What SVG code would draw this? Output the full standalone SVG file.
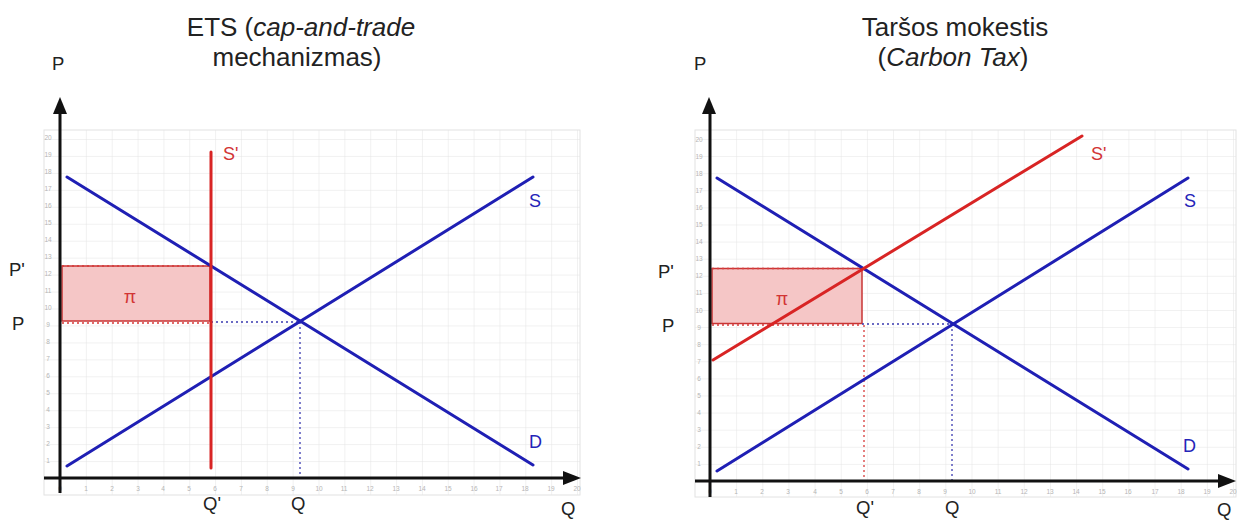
<svg xmlns="http://www.w3.org/2000/svg" width="1242" height="521" viewBox="0 0 1242 521">
<style>
text{font-family:"Liberation Sans",Arial,sans-serif;}
.title{font-size:26px;fill:#222;text-anchor:middle;}
.lbl{font-size:18.5px;fill:#222;}
.tick{font-size:6.5px;fill:#b5b5b5;text-anchor:middle;}
.blue{stroke:#1f1fb4;stroke-width:3;fill:none;stroke-linecap:round;}
.red{stroke:#d82424;stroke-width:3;fill:none;stroke-linecap:round;}
.axis{stroke:#111;stroke-width:3;fill:none;}
.dotb{stroke:#3a3ab0;stroke-width:1.3;stroke-dasharray:2 3;fill:none;}
.dotr{stroke:#d83a3a;stroke-width:1.3;stroke-dasharray:2 3;fill:none;}
.rect{fill:#f5c6c6;stroke:#c83434;stroke-width:1.5;}
.bl{fill:#2424b8;}
.rl{fill:#d23434;}
</style>
<defs>
<pattern id="gL" patternUnits="userSpaceOnUse" x="60" y="478" width="25.85" height="16.95">
<path d="M0 0H25.85M0 0V16.95" stroke="#e4e4e4" stroke-width="1" fill="none"/>
</pattern>
<pattern id="gR" patternUnits="userSpaceOnUse" x="710" y="481" width="26.15" height="17.1">
<path d="M0 0H26.15M0 0V17.1" stroke="#e4e4e4" stroke-width="1" fill="none"/>
</pattern>
</defs>
<rect width="1242" height="521" fill="#fff"/>

<!-- LEFT CHART -->
<g id="left-title">
<text class="title" x="301" y="36">ETS (<tspan font-style="italic">cap-and-trade</tspan></text>
<text class="title" x="297" y="66">mechanizmas)</text>
</g>
<g id="left-grid">
<rect x="44" y="130" width="536" height="365" fill="url(#gL)" stroke="#e2e2e2"/>
<g class="tick">
<text x="60" y="491">0</text><text x="86" y="491">1</text><text x="112" y="491">2</text><text x="138" y="491">3</text><text x="163" y="491">4</text><text x="189" y="491">5</text><text x="215" y="491">6</text><text x="241" y="491">7</text><text x="267" y="491">8</text><text x="293" y="491">9</text><text x="319" y="491">10</text><text x="344" y="491">11</text><text x="370" y="491">12</text><text x="396" y="491">13</text><text x="422" y="491">14</text><text x="448" y="491">15</text><text x="474" y="491">16</text><text x="499" y="491">17</text><text x="525" y="491">18</text><text x="551" y="491">19</text><text x="577" y="491">20</text>
<text x="48" y="463">1</text><text x="48" y="446">2</text><text x="48" y="429">3</text><text x="48" y="412">4</text><text x="48" y="395">5</text><text x="48" y="378">6</text><text x="48" y="361">7</text><text x="48" y="344">8</text><text x="48" y="327">9</text><text x="48" y="310">10</text><text x="48" y="293">11</text><text x="48" y="276">12</text><text x="48" y="259">13</text><text x="48" y="242">14</text><text x="48" y="225">15</text><text x="48" y="208">16</text><text x="48" y="191">17</text><text x="48" y="174">18</text><text x="48" y="157">19</text><text x="48" y="140">20</text>
</g>
</g>
<g id="left-profit">
<rect class="rect" x="62" y="266" width="148" height="55"/>
<text class="rl" x="130" y="303" font-size="18" text-anchor="middle">π</text>
</g>
<g id="left-connectors">
<path class="dotr" d="M62 266H211M62 323H211"/>
<path class="dotb" d="M211 322H300M300 322V477"/>
<path class="blue" d="M67 177L533 465"/>
<path class="blue" d="M67 466L533 177"/>
<path class="red" d="M211 152V468"/>
</g>
<g id="left-axes">
<path class="axis" d="M60 113V493M44 478H566"/>
<polygon points="60,97 53,114 67,114" fill="#111"/>
<polygon points="581,478 563,471 563,485" fill="#111"/>
</g>
<g id="left-labels">
<text class="lbl" x="52" y="70">P</text>
<text class="lbl" x="9" y="276">P'</text>
<text class="lbl" x="12" y="330">P</text>
<text class="lbl" x="203" y="510">Q'</text>
<text class="lbl" x="291" y="510">Q</text>
<text class="lbl" x="561" y="515">Q</text>
<text class="rl" x="223" y="160" font-size="18">S'</text>
<text class="bl" x="529" y="207" font-size="18">S</text>
<text class="bl" x="529" y="448" font-size="18">D</text>
</g>

<!-- RIGHT CHART -->
<g id="right-title">
<text class="title" x="955" y="36">Taršos mokestis</text>
<text class="title" x="953" y="66">(<tspan font-style="italic">Carbon Tax</tspan>)</text>
</g>
<g id="right-grid">
<rect x="695" y="130" width="541" height="367" fill="url(#gR)" stroke="#e2e2e2"/>
<g class="tick">
<text x="710" y="494">0</text><text x="736" y="494">1</text><text x="762" y="494">2</text><text x="788" y="494">3</text><text x="815" y="494">4</text><text x="841" y="494">5</text><text x="867" y="494">6</text><text x="893" y="494">7</text><text x="919" y="494">8</text><text x="945" y="494">9</text><text x="972" y="494">10</text><text x="998" y="494">11</text><text x="1024" y="494">12</text><text x="1050" y="494">13</text><text x="1076" y="494">14</text><text x="1102" y="494">15</text><text x="1128" y="494">16</text><text x="1155" y="494">17</text><text x="1181" y="494">18</text><text x="1207" y="494">19</text><text x="1233" y="494">20</text>
<text x="699" y="466">1</text><text x="699" y="449">2</text><text x="699" y="432">3</text><text x="699" y="415">4</text><text x="699" y="398">5</text><text x="699" y="381">6</text><text x="699" y="364">7</text><text x="699" y="347">8</text><text x="699" y="330">9</text><text x="699" y="313">10</text><text x="699" y="295">11</text><text x="699" y="278">12</text><text x="699" y="261">13</text><text x="699" y="244">14</text><text x="699" y="227">15</text><text x="699" y="210">16</text><text x="699" y="193">17</text><text x="699" y="176">18</text><text x="699" y="159">19</text><text x="699" y="142">20</text>
</g>
</g>
<g id="right-profit">
<rect class="rect" x="712" y="268.5" width="150" height="55"/>
<text class="rl" x="782" y="305" font-size="18" text-anchor="middle">π</text>
</g>
<g id="right-connectors">
<path class="dotr" d="M712 268.5H862M712 325H862M864 325V480"/>
<path class="dotb" d="M862 324H952M952 324V480"/>
<path class="blue" d="M717 178L1188 469"/>
<path class="blue" d="M717 471L1188 178"/>
<path class="red" d="M713 360L1082 136"/>
</g>
<g id="right-axes">
<path class="axis" d="M710 113V497M695 481H1220"/>
<polygon points="709,97 702,114 716,114" fill="#111"/>
<polygon points="1236,481 1218,474 1218,488" fill="#111"/>
</g>
<g id="right-labels">
<text class="lbl" x="694" y="70">P</text>
<text class="lbl" x="658" y="278">P'</text>
<text class="lbl" x="662" y="332">P</text>
<text class="lbl" x="856" y="514">Q'</text>
<text class="lbl" x="945" y="514">Q</text>
<text class="lbl" x="1217" y="516">Q</text>
<text class="rl" x="1091" y="160" font-size="18">S'</text>
<text class="bl" x="1184" y="207" font-size="18">S</text>
<text class="bl" x="1183" y="452" font-size="18">D</text>
</g>
</svg>
